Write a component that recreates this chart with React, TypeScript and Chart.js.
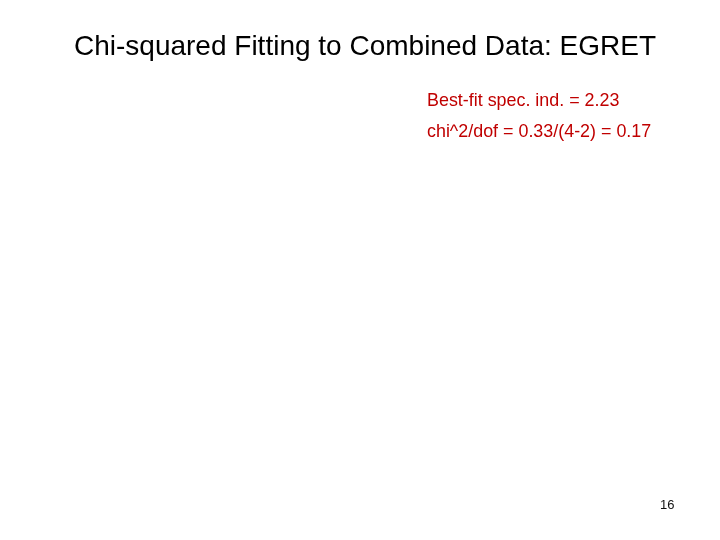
import React, { useEffect, useRef } from 'react';
import Chart from 'chart.js/auto';

// The slide shows only text: the plot itself is empty
const chartTitle = 'Chi-squared Fitting to Combined Data: EGRET';
const fitNotes = ['Best-fit spec. ind. = 2.23', 'chi^2/dof = 0.33/(4-2) = 0.17'];
const pageNumber = '16';
const points: { x: number; y: number }[] = [];

const FONT = '"Liberation Sans", Arial, Helvetica, sans-serif';

const App: React.FC = () => {
  const chartRef = useRef<HTMLCanvasElement>(null);
  const chartInstance = useRef<Chart | null>(null);

  useEffect(() => {
    if (!chartRef.current) return;
    if (chartInstance.current) chartInstance.current.destroy();

    const ctx = chartRef.current.getContext('2d');
    if (!ctx) return;

    chartInstance.current = new Chart(ctx, {
      type: 'scatter',
      data: {
        datasets: [{ label: 'data', data: points, pointRadius: 0 }]
      },
      options: {
        animation: false,
        responsive: true,
        maintainAspectRatio: false,
        layout: { padding: { left: 10 } },
        plugins: {
          legend: { display: false },
          tooltip: { enabled: false },
          title: {
            display: true,
            text: chartTitle,
            color: '#000000',
            font: { family: FONT, size: 28, weight: 'normal' },
            padding: { top: 30, bottom: 0 }
          }
        },
        scales: {
          x: { display: false },
          y: { display: false }
        }
      }
    });

    return () => {
      if (chartInstance.current) {
        chartInstance.current.destroy();
        chartInstance.current = null;
      }
    };
  }, []);

  return (
    <div style={{ position: 'relative', width: 720, height: 540, margin: -8, background: '#fff', fontFamily: FONT }}>
      <canvas ref={chartRef}></canvas>
      {fitNotes.map((t, i) => (
        <div
          key={i}
          style={{ position: 'absolute', left: 427, top: 91.5 + i * 31, fontSize: 17.9, lineHeight: 1, color: '#c00000', whiteSpace: 'nowrap' }}
        >
          {t}
        </div>
      ))}
      <div style={{ position: 'absolute', left: 660, top: 498, fontSize: 13, lineHeight: 1, color: '#111', whiteSpace: 'nowrap' }}>
        {pageNumber}
      </div>
    </div>
  );
};

export default App;
